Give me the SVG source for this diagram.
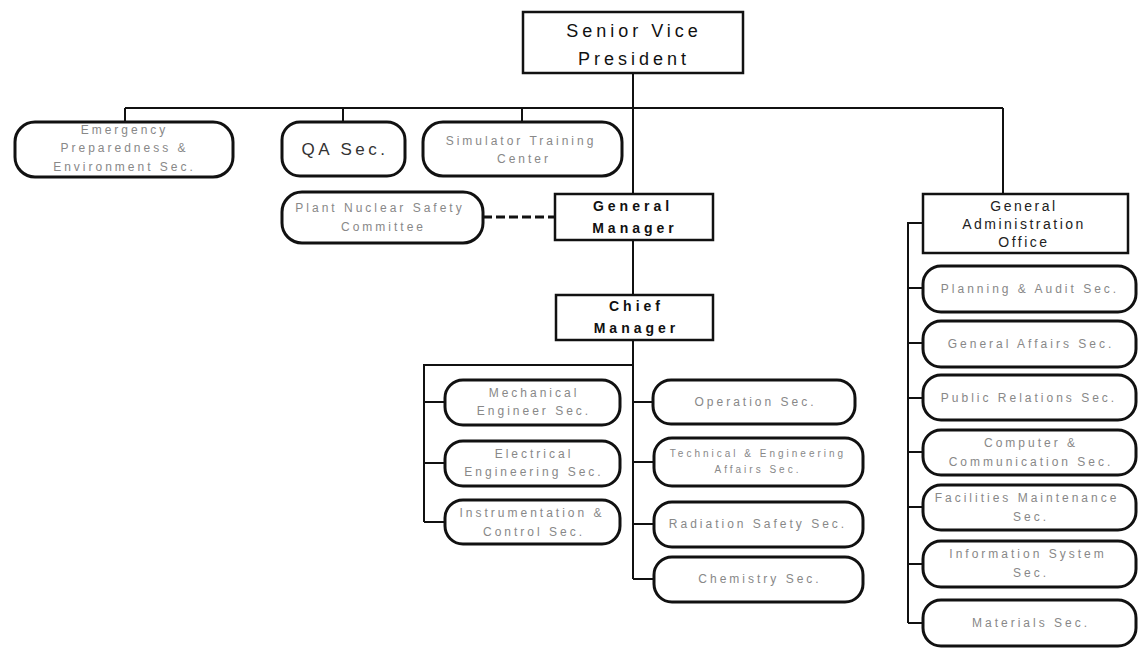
<svg xmlns="http://www.w3.org/2000/svg" width="1138" height="648" viewBox="0 0 1138 648">
  <style>
    .box { fill: #fff; stroke: #111; stroke-width: 2.5; }
    .sec { fill: #fff; stroke: #111; stroke-width: 3; }
    .ln { fill: none; stroke: #111; stroke-width: 2; }
    .dash { fill: none; stroke: #111; stroke-width: 3; stroke-dasharray: 9 4; }
    text { font-family: "Liberation Sans", Arial, sans-serif; text-anchor: middle; }
    .t { font-size: 12px; letter-spacing: 3px; fill: #888; }
    .ts { font-size: 10px; letter-spacing: 3px; fill: #888; }
    .head { font-size: 18px; letter-spacing: 4px; fill: #111; }
    .mgr { font-size: 14px; font-weight: bold; letter-spacing: 4px; fill: #111; }
    .off { font-size: 14px; letter-spacing: 2.5px; fill: #222; }
    .qa { font-size: 17px; letter-spacing: 3.5px; fill: #333; }
  </style>

  <!-- reporting lines -->
  <g id="connectors">
    <path class="ln" d="M633 73 V195"/>
    <path class="ln" d="M125 108 H1003"/>
    <path class="ln" d="M125 108 V122 M343 108 V122 M522 108 V122 M1003 108 V194"/>
    <path class="ln" d="M633 240 V295"/>
    <path class="ln" d="M633 340 V579"/>
    <path class="ln" d="M633 365 H424 V522"/>
    <path class="ln" d="M424 402 H445 M424 463 H445 M424 522 H445"/>
    <path class="ln" d="M633 402 H653 M633 462 H654 M633 524 H654 M633 579 H654"/>
    <path class="ln" d="M923 223 H908 V623"/>
    <path class="ln" d="M908 288 H923 M908 343 H923 M908 398 H923 M908 452 H923 M908 507 H923 M908 564 H923 M908 623 H923"/>
    <path class="dash" d="M483 217 H555"/>
  </g>

  <g id="senior-vice-president">
    <rect class="box" x="523" y="12" width="220" height="61"/>
    <text class="head" x="634" y="37">Senior Vice</text>
    <text class="head" x="634" y="65">President</text>
  </g>

  <g id="emergency-sec">
    <rect class="sec" x="15" y="122" width="218" height="55" rx="20"/>
    <text class="t" x="124.5" y="134">Emergency</text>
    <text class="t" x="124.5" y="152">Preparedness &amp;</text>
    <text class="t" x="124.5" y="171">Environment Sec.</text>
  </g>

  <g id="qa-sec">
    <rect class="sec" x="282" y="122" width="123" height="54" rx="18"/>
    <text class="qa" x="345" y="155">QA Sec.</text>
  </g>

  <g id="simulator-training-center">
    <rect class="sec" x="423" y="122" width="199" height="54" rx="20"/>
    <text class="t" x="521" y="145">Simulator Training</text>
    <text class="t" x="524" y="163">Center</text>
  </g>

  <g id="plant-nuclear-safety-committee">
    <rect class="sec" x="282" y="192" width="201" height="51" rx="20"/>
    <text class="t" x="380" y="212">Plant Nuclear Safety</text>
    <text class="t" x="383.5" y="231">Committee</text>
  </g>

  <g id="general-manager">
    <rect class="box" x="555" y="194" width="158" height="46"/>
    <text class="mgr" x="633" y="211">General</text>
    <text class="mgr" x="635" y="233">Manager</text>
  </g>

  <g id="chief-manager">
    <rect class="box" x="556" y="295" width="157" height="45"/>
    <text class="mgr" x="636.5" y="311">Chief</text>
    <text class="mgr" x="636.5" y="333">Manager</text>
  </g>

  <g id="mechanical-engineer-sec">
    <rect class="sec" x="445" y="380" width="175" height="45" rx="18"/>
    <text class="t" x="534" y="397">Mechanical</text>
    <text class="t" x="534" y="415">Engineer Sec.</text>
  </g>

  <g id="electrical-engineering-sec">
    <rect class="sec" x="445" y="441" width="175" height="45" rx="18"/>
    <text class="t" x="534" y="458">Electrical</text>
    <text class="t" x="534" y="476">Engineering Sec.</text>
  </g>

  <g id="instrumentation-control-sec">
    <rect class="sec" x="445" y="500" width="175" height="44" rx="18"/>
    <text class="t" x="532" y="517">Instrumentation &amp;</text>
    <text class="t" x="534" y="536">Control Sec.</text>
  </g>

  <g id="operation-sec">
    <rect class="sec" x="653" y="380" width="202" height="44" rx="18"/>
    <text class="t" x="755.5" y="406">Operation Sec.</text>
  </g>

  <g id="technical-engineering-affairs-sec">
    <rect class="sec" x="654" y="438" width="209" height="48" rx="18"/>
    <text class="ts" x="758" y="457">Technical &amp; Engineering</text>
    <text class="ts" x="758" y="473">Affairs Sec.</text>
  </g>

  <g id="radiation-safety-sec">
    <rect class="sec" x="654" y="502" width="209" height="45" rx="18"/>
    <text class="t" x="758" y="528">Radiation Safety Sec.</text>
  </g>

  <g id="chemistry-sec">
    <rect class="sec" x="654" y="557" width="209" height="45" rx="18"/>
    <text class="t" x="760" y="583">Chemistry Sec.</text>
  </g>

  <g id="general-administration-office">
    <rect class="box" x="923" y="194" width="205" height="59"/>
    <text class="off" x="1024" y="211">General</text>
    <text class="off" x="1024" y="229">Administration</text>
    <text class="off" x="1024" y="247">Office</text>
  </g>

  <g id="planning-audit-sec">
    <rect class="sec" x="923" y="266" width="213" height="46" rx="18"/>
    <text class="t" x="1030" y="293">Planning &amp; Audit Sec.</text>
  </g>

  <g id="general-affairs-sec">
    <rect class="sec" x="923" y="321" width="213" height="46" rx="18"/>
    <text class="t" x="1031" y="348">General Affairs Sec.</text>
  </g>

  <g id="public-relations-sec">
    <rect class="sec" x="923" y="375" width="213" height="45" rx="18"/>
    <text class="t" x="1029" y="402">Public Relations Sec.</text>
  </g>

  <g id="computer-communication-sec">
    <rect class="sec" x="923" y="430" width="213" height="45" rx="18"/>
    <text class="t" x="1031" y="447">Computer &amp;</text>
    <text class="t" x="1031" y="466">Communication Sec.</text>
  </g>

  <g id="facilities-maintenance-sec">
    <rect class="sec" x="923" y="485" width="213" height="45" rx="18"/>
    <text class="t" x="1027" y="502">Facilities Maintenance</text>
    <text class="t" x="1031" y="521">Sec.</text>
  </g>

  <g id="information-system-sec">
    <rect class="sec" x="923" y="541" width="213" height="46" rx="18"/>
    <text class="t" x="1028" y="558">Information System</text>
    <text class="t" x="1031" y="577">Sec.</text>
  </g>

  <g id="materials-sec">
    <rect class="sec" x="923" y="600" width="213" height="46" rx="18"/>
    <text class="t" x="1031" y="627">Materials Sec.</text>
  </g>
</svg>
